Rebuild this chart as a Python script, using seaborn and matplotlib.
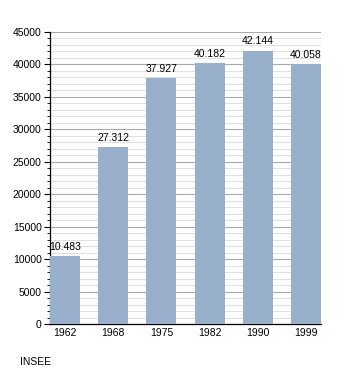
import matplotlib
matplotlib.use("Agg")
import matplotlib.pyplot as plt
import seaborn as sns
import pandas as pd
from matplotlib.ticker import MultipleLocator

years = ["1962", "1968", "1975", "1982", "1990", "1999"]
population = [10483, 27312, 37927, 40182, 42144, 40058]
labels = ["10.483", "27.312", "37.927", "40.182", "42.144", "40.058"]

df = pd.DataFrame({"year": years, "pop": population})

sns.set_style("white")
plt.rcParams["font.family"] = ["Liberation Sans", "DejaVu Sans"]
plt.rcParams["text.color"] = "black"
plt.rcParams["xtick.color"] = "black"
plt.rcParams["ytick.color"] = "black"

fig = plt.figure(figsize=(3.5, 3.73), dpi=100)
ax = fig.add_axes([50/350, 49/373, 271/350, 292/373])

sns.barplot(data=df, x="year", y="pop", color="#98b0cc", saturation=1,
            width=0.625, ax=ax, zorder=3, linewidth=0, edgecolor="none")

ax.set_xlim(-0.3125, 5.3125)
ax.set_ylim(0, 45000)
ax.yaxis.set_major_locator(MultipleLocator(5000))
ax.yaxis.set_minor_locator(MultipleLocator(1000))
ax.grid(which="major", axis="y", color="#aaaaaa", linewidth=0.8, zorder=0)
ax.grid(which="minor", axis="y", color="#e0e0e0", linewidth=0.8, zorder=0)
ax.set_axisbelow(True)

for s in ["top", "right"]:
    ax.spines[s].set_visible(False)
ax.spines["left"].set_color("black")
ax.spines["bottom"].set_color("black")
ax.spines["left"].set_linewidth(0.9)
ax.spines["bottom"].set_linewidth(0.9)

ax.tick_params(axis="y", which="major", length=4, width=0.8, color="black",
               labelsize=7.5, pad=2, left=True, labelcolor="black")
ax.tick_params(axis="y", which="minor", length=2.2, width=0.6, color="black", left=True)
ax.tick_params(axis="x", length=0, labelsize=7.5, pad=3, labelcolor="black")
ax.set_xlabel("")
ax.set_ylabel("")

for i, (v, t) in enumerate(zip(population, labels)):
    ax.annotate(t, (i, v), xytext=(0, 3), textcoords="offset points",
                ha="center", va="bottom", fontsize=7.5, color="black")

fig.text(20/350, 1 - 362/373, "INSEE", fontsize=7.5, ha="left", va="center", color="black")

fig.savefig("out.png", dpi=100)
